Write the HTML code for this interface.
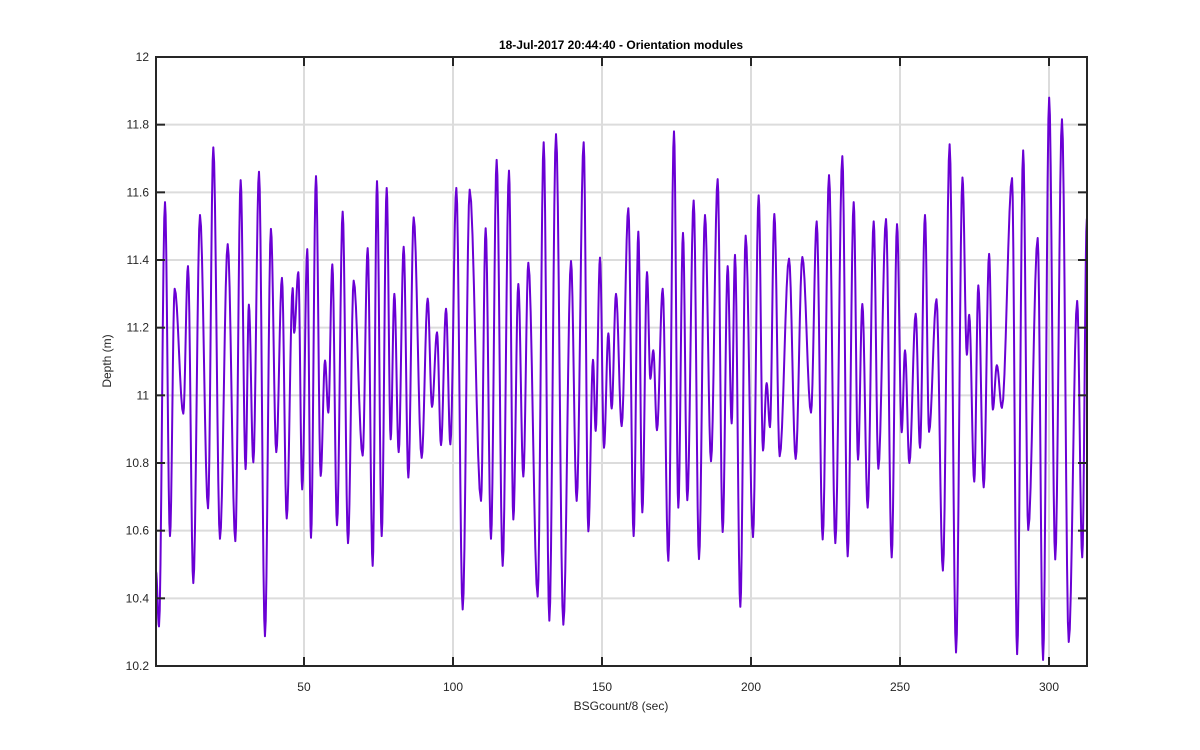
<!DOCTYPE html>
<html><head><meta charset="utf-8"><style>
body{margin:0;background:#fff;}
svg{display:block;font-family:"Liberation Sans",Arial,sans-serif;}
</style></head><body>
<svg id="chart" width="1200" height="750" viewBox="0 0 1200 750" xmlns="http://www.w3.org/2000/svg">
<rect x="0" y="0" width="1200" height="750" fill="#ffffff"/>
<g id="grid"></g>
<g id="series"></g>
<rect x="156" y="57" width="931" height="609" fill="none" stroke="#262626" stroke-width="2"/>
<g id="ticks"></g>
<text x="621" y="49" text-anchor="middle" font-size="12" font-weight="bold" fill="#000">18-Jul-2017 20:44:40 - Orientation modules</text>
<text x="621" y="710" text-anchor="middle" font-size="12" fill="#262626">BSGcount/8 (sec)</text>
<text x="111" y="361" text-anchor="middle" font-size="12" fill="#262626" transform="rotate(-90 111 361)">Depth (m)</text>
</svg>
<script>
const xTicks=[50,100,150,200,250,300];
const yTicks=[10.2,10.4,10.6,10.8,11,11.2,11.4,11.6,11.8,12];
const yTickLabels=["10.2","10.4","10.6","10.8","11","11.2","11.4","11.6","11.8","12"];
const timeVals=[0.34,1.34,3.36,5.03,6.6,9.5,11.07,12.86,15.1,17.8,19.57,21.8,24.4,26.96,28.75,30.4,31.5,33.0,34.9,36.9,38.9,40.7,42.6,44.2,46.2,46.7,48.1,49.4,51.1,
52.35,54.03,55.6,57.05,58.17,59.51,61.08,62.98,64.77,66.67,69.69,71.37,73.05,74.5,76.07,77.75,79.09,80.32,81.77,83.45,85.02,86.81,89.49,91.5,92.96,94.64,95.98,97.66,99.11,101.12,103.25,
105.6,109.4,110.96,112.75,114.65,116.67,118.79,120.25,121.92,123.6,125.28,128.41,130.43,132.33,134.57,137.03,139.6,141.5,143.85,145.42,146.98,147.88,149.33,150.67,152.13,153.25,154.7,
156.6,158.83,160.62,162.19,163.53,165.1,166.22,167.22,168.45,170.36,172.26,174.16,175.61,177.18,178.63,180.76,182.55,184.56,186.58,188.81,190.49,192.17,193.51,194.63,196.42,198.21,200.67,202.57,204.02,205.25,206.37,207.83,
209.62,212.76,214.99,217.23,220.14,222.04,224.05,226.18,228.3,230.65,232.44,234.46,235.91,237.36,239.15,241.17,242.73,245.31,247.21,249.0,250.56,251.68,253.14,255.26,256.72,258.39,
259.75,262.24,264.39,266.65,268.8,270.96,272.43,273.22,274.92,276.28,278.09,279.9,281.15,282.5,284.2,287.6,289.3,291.33,293.03,296.2,298.01,300.05,302.09,304.35,306.62,309.45,311.15,312.7];
const depthVals=[10.48,10.317,11.571,10.584,11.315,10.946,11.382,10.445,11.533,10.666,11.733,10.576,11.447,10.569,11.636,10.782,11.268,10.802,11.661,10.288,11.492,10.832,11.347,10.636,11.317,11.185,11.364,10.722,11.432,
10.579,11.648,10.762,11.103,10.949,11.387,10.616,11.543,10.563,11.339,10.822,11.435,10.496,11.633,10.584,11.613,10.870,11.300,10.832,11.439,10.757,11.526,10.815,11.286,10.966,11.186,10.853,11.256,10.855,11.613,10.367,
11.608,10.688,11.494,10.576,11.696,10.496,11.664,10.633,11.329,10.760,11.392,10.405,11.748,10.334,11.772,10.322,11.397,10.688,11.748,10.598,11.105,10.895,11.407,10.845,11.183,10.961,11.300,
10.909,11.553,10.584,11.484,10.654,11.364,11.049,11.133,10.897,11.315,10.511,11.780,10.668,11.480,10.690,11.576,10.516,11.533,10.805,11.639,10.596,11.382,10.917,11.415,10.375,11.472,10.581,11.591,10.837,11.036,10.906,11.536,
10.820,11.404,10.812,11.409,10.949,11.514,10.574,11.651,10.563,11.707,10.524,11.571,10.810,11.270,10.668,11.514,10.783,11.521,10.521,11.506,10.891,11.133,10.800,11.241,10.845,11.533,
10.892,11.284,10.482,11.742,10.240,11.644,11.120,11.238,10.745,11.325,10.728,11.418,10.958,11.089,10.963,11.642,10.235,11.724,10.602,11.465,10.218,11.880,10.515,11.816,10.271,11.279,10.521,11.522];
const X0=156,X1=1087,Y0=57,Y1=666,xMin=0.34,xMax=312.75,yMin=10.2,yMax=12;
function xs(v){return X0+(v-xMin)/(xMax-xMin)*(X1-X0);}
function ys(v){return Y1-(v-yMin)/(yMax-yMin)*(Y1-Y0);}
const NS="http://www.w3.org/2000/svg";
const grid=document.getElementById('grid'),ticks=document.getElementById('ticks'),series=document.getElementById('series');
function mk(tag,attrs,parent){const e=document.createElementNS(NS,tag);for(const k in attrs)e.setAttribute(k,attrs[k]);parent.appendChild(e);return e;}
xTicks.forEach(t=>{
  const x=xs(t);
  const g=mk('line',{x1:x,x2:x,y1:Y0,y2:Y1,stroke:'#dcdcdc','stroke-width':2},grid);
  
  
  const a=mk('line',{x1:x,x2:x,y1:Y1,y2:Y1-9,stroke:'#262626','stroke-width':2},ticks);
  
  
  const b=mk('line',{x1:x,x2:x,y1:Y0,y2:Y0+9,stroke:'#262626','stroke-width':2},ticks);
  
  
  const l=mk('text',{x:x,y:691,'text-anchor':'middle','font-size':12,fill:'#262626'},ticks);
  l.textContent=String(t);
  
  
});
yTicks.forEach((t,i)=>{
  const y=ys(t);
  const g=mk('line',{x1:X0,x2:X1,y1:y,y2:y,stroke:'#dcdcdc','stroke-width':2},grid);
  
  
  const a=mk('line',{x1:X0,x2:X0+9,y1:y,y2:y,stroke:'#262626','stroke-width':2},ticks);
  
  
  const b=mk('line',{x1:X1,x2:X1-9,y1:y,y2:y,stroke:'#262626','stroke-width':2},ticks);
  
  
  const l=mk('text',{x:149,y:y+4,'text-anchor':'end','font-size':12,fill:'#262626'},ticks);
  l.textContent=yTickLabels[i];
  
  
});
let d='M'+xs(timeVals[0]).toFixed(2)+' '+ys(depthVals[0]).toFixed(2);
for(let i=1;i<timeVals.length;i++){
  const ta=timeVals[i-1],tb=timeVals[i],va=depthVals[i-1],vb=depthVals[i];
  const n=8;
  for(let k=1;k<=n;k++){
    const f=k/n,t=ta+(tb-ta)*f,v=va+(vb-va)*(1-Math.cos(Math.PI*f))/2;
    d+=' L'+xs(t).toFixed(2)+' '+ys(v).toFixed(2);
  }
}
const p=mk('path',{d:d,fill:'none',stroke:'#6a00d4','stroke-width':2,'stroke-linejoin':'round'},series);


</script>
</body></html>
